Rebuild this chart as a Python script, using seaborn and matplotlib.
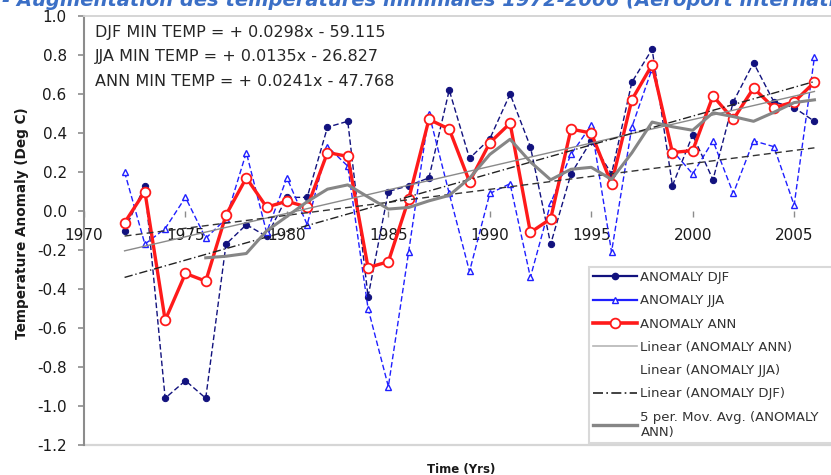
import numpy as np
import pandas as pd
import matplotlib
matplotlib.use("Agg")
import matplotlib.pyplot as plt
from matplotlib.lines import Line2D
import seaborn as sns

# ---------------- data ----------------
years = list(range(1972, 2007))
djf = [-0.10, 0.13, -0.96, -0.87, -0.96, -0.17, -0.07, -0.13, 0.07, 0.07,
       0.43, 0.46, -0.44, 0.10, 0.13, 0.17, 0.62, 0.27, 0.37, 0.60,
       0.33, -0.17, 0.19, 0.36, 0.19, 0.66, 0.83, 0.13, 0.39, 0.16,
       0.56, 0.76, 0.56, 0.53, 0.46]
jja = [0.20, -0.17, -0.09, 0.07, -0.14, -0.04, 0.30, -0.11, 0.17, -0.07,
       0.33, 0.23, -0.50, -0.90, -0.21, 0.50, 0.09, -0.31, 0.09, 0.14,
       -0.34, 0.04, 0.29, 0.44, -0.21, 0.43, 0.73, 0.31, 0.19, 0.36,
       0.09, 0.36, 0.33, 0.03, 0.79]
ann = [-0.06, 0.10, -0.56, -0.32, -0.36, -0.02, 0.17, 0.02, 0.05, 0.02,
       0.30, 0.28, -0.29, -0.26, 0.06, 0.47, 0.42, 0.15, 0.35, 0.45,
       -0.11, -0.04, 0.42, 0.40, 0.14, 0.57, 0.75, 0.30, 0.31, 0.59,
       0.47, 0.63, 0.53, 0.56, 0.66]

x_range = [1970, 2010]
x_ticks = [1970, 1975, 1980, 1985, 1990, 1995, 2000, 2005]
y_ticks = [-1.2, -1.0, -0.8, -0.6, -0.4, -0.2, 0.0, 0.2, 0.4, 0.6, 0.8, 1.0]

title_text = "- Augmentation des températures minimales 1972-2006 (Aeroport international)"
eq_labels = ["DJF MIN TEMP = + 0.0298x - 59.115",
             "JJA MIN TEMP = + 0.0135x - 26.827",
             "ANN MIN TEMP = + 0.0241x - 47.768"]
legend_labels = ["ANOMALY DJF", "ANOMALY JJA", "ANOMALY ANN",
                 "Linear (ANOMALY ANN)", "Linear (ANOMALY JJA)",
                 "Linear (ANOMALY DJF)", "5 per. Mov. Avg. (ANOMALY\nANN)"]
x_label = "Time (Yrs)"
y_label = "Temperature Anomaly (Deg C)"

# ---------------- figure ----------------
plt.rcParams['font.family'] = ['DejaVu Sans']
plt.rcParams['axes.unicode_minus'] = False

W, H = 831, 475
fig = plt.figure(figsize=(W / 100, H / 100), dpi=100)
ax = fig.add_axes([84 / W, 30 / H, 811.6 / W, 429 / H])

df = pd.DataFrame({'year': years, 'DJF': djf, 'JJA': jja, 'ANN': ann})
df['MA5'] = df['ANN'].rolling(5).mean()

navy = '#12127e'
blue = '#1f1fff'
red = '#ff1a1a'

sns.lineplot(data=df, x='year', y='DJF', ax=ax, color=navy, lw=1.0,
             linestyle=(0, (4, 2)), marker='o', markersize=4.5,
             markeredgecolor=navy, markerfacecolor=navy, zorder=3)
sns.lineplot(data=df, x='year', y='JJA', ax=ax, color=blue, lw=1.0,
             linestyle=(0, (4, 2)), marker='^', markersize=5,
             markeredgecolor=blue, markerfacecolor='white', mew=1.0, zorder=3)
sns.lineplot(data=df, x='year', y='ANN', ax=ax, color=red, lw=2.4,
             marker='o', markersize=7, markerfacecolor='white',
             markeredgecolor=red, mew=1.3, zorder=4)

sns.regplot(data=df, x='year', y='ANN', ax=ax, scatter=False, ci=None,
            truncate=True, color='#8a8a8a', line_kws=dict(lw=1.0, zorder=5))
sns.regplot(data=df, x='year', y='JJA', ax=ax, scatter=False, ci=None,
            truncate=True, color='#333333',
            line_kws=dict(lw=1.0, linestyle=(0, (5, 3)), zorder=5))
sns.regplot(data=df, x='year', y='DJF', ax=ax, scatter=False, ci=None,
            truncate=True, color='#222222',
            line_kws=dict(lw=1.0, linestyle=(0, (6, 2, 1, 2)), zorder=5))

sns.lineplot(data=df.dropna(subset=['MA5']), x='year', y='MA5', ax=ax,
             color='#868686', lw=2.2, zorder=6)

# ---------------- axes ----------------
ax.set_xlim(*x_range)
ax.set_ylim(y_ticks[0], y_ticks[-1])
ax.set_xticks(x_ticks)
ax.set_yticks(y_ticks)
ax.yaxis.set_major_formatter('{x:.1f}')

ax.spines['bottom'].set_position(('data', 0))
ax.spines['bottom'].set_color('none')
ax.spines['right'].set_visible(False)
ax.spines['left'].set_color('#8c8c8c')
ax.spines['left'].set_linewidth(1.5)
ax.spines['top'].set_color('#d2d2d2')
ax.spines['top'].set_linewidth(1.3)
ax.axhline(y_ticks[0], color='#d6d6d6', lw=1.6, clip_on=False, zorder=1)

ax.tick_params(axis='x', direction='out', length=4, width=1.0,
               color='#8c8c8c', pad=8, labelsize=11, labelcolor='#1a1a1a')
ax.tick_params(axis='y', direction='out', length=4.5, width=1.2,
               color='#8c8c8c', pad=8, labelsize=11, labelcolor='#1a1a1a')

ax.set_ylabel(y_label, fontsize=9.8, fontweight='bold', color='#1a1a1a')
ax.yaxis.set_label_coords((22 - 84) / 811.6, (445 - 223) / 429)
ax.yaxis.label.set_va('center')
ax.set_xlabel(x_label, fontsize=8.5, fontweight='bold', color='#1a1a1a')
ax.xaxis.set_label_coords((461 - 84) / 811.6, (445 - 469) / 429)
ax.xaxis.label.set_va('center')

# ---------------- legend ----------------
handles = [
    Line2D([], [], color=navy, lw=1.6, marker='o', ms=4.5, mfc=navy, mec=navy),
    Line2D([], [], color=blue, lw=1.6, marker='^', ms=5, mfc='white', mec=blue),
    Line2D([], [], color=red, lw=2.6, marker='o', ms=7, mfc='white', mec=red, mew=1.3),
    Line2D([], [], color='#b5b5b5', lw=1.2),
    Line2D([], [], color='none', lw=1.2),
    Line2D([], [], color='#222222', lw=1.2, linestyle=(0, (6, 2, 1, 2))),
    Line2D([], [], color='#868686', lw=2.4),
]
leg = ax.legend(handles, legend_labels, loc='upper left',
                bbox_to_anchor=(589 / W, 1 - 445 / H, 320 / W, (445 - 267) / H),
                bbox_transform=fig.transFigure, mode='expand', borderaxespad=0,
                fontsize=9.5, frameon=True, fancybox=False, edgecolor='#d9d9d9',
                framealpha=1, handlelength=3.3, handletextpad=0.3,
                labelspacing=0.78, borderpad=0.3, numpoints=1)
leg.get_frame().set_linewidth(1.5)
for t in leg.get_texts():
    t.set_color('#333333')

# ---------------- texts ----------------
fig.text(2 / W, 1 - 6 / H, title_text, fontsize=14, fontweight='bold',
         fontstyle='italic', color='#3b6fc6', ha='left', va='baseline')
for eq, ypix in zip(eq_labels, [33, 57, 82]):
    fig.text(95 / W, 1 - ypix / H, eq, fontsize=11.5, color='#262626',
             ha='left', va='center')

fig.savefig('out.png', dpi=100)
